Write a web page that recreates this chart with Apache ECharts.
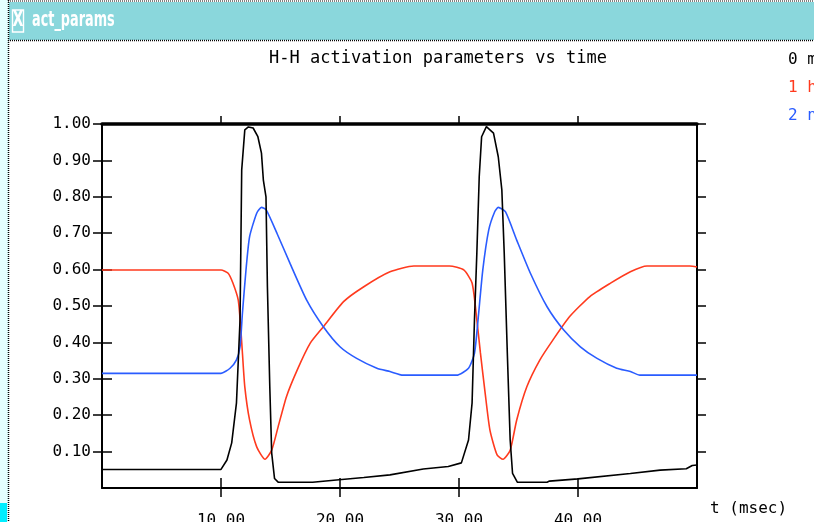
<!DOCTYPE html>
<html>
<head>
<meta charset="utf-8">
<script src="https://cdn.jsdelivr.net/npm/echarts@6/dist/echarts.min.js"></script>
<style>
html,body{margin:0;padding:0;background:#fff;}
#c{width:814px;height:522px;}
</style>
</head>
<body>
<div id="c"></div>
<script>
// ---- data ----
const seriesNames = ['0 m', '1 h', '2 n'];
const xTicks = [10, 20, 30, 40];
const yTicks = [0.1, 0.2, 0.3, 0.4, 0.5, 0.6, 0.7, 0.8, 0.9, 1.0];

const mTime = [0, 10.0, 10.5, 10.9, 11.3, 11.6, 11.74, 12.0, 12.3, 12.7, 13.1, 13.4, 13.56, 13.78, 13.9, 14.1, 14.26, 14.5, 14.8, 17.7, 19.7, 22.0, 24.2, 27.0, 29.1, 30.2, 30.8, 31.1, 31.3, 31.5, 31.7, 31.9, 32.3, 32.9, 33.3, 33.6, 33.8, 34.06, 34.3, 34.5, 34.9, 37.4, 37.6, 40.0, 44.4, 46.9, 49.1, 49.6, 50];
const mVal  = [0.051, 0.051, 0.077, 0.124, 0.234, 0.462, 0.874, 0.984, 0.992, 0.989, 0.965, 0.920, 0.846, 0.800, 0.553, 0.278, 0.096, 0.026, 0.016, 0.016, 0.022, 0.029, 0.036, 0.052, 0.059, 0.069, 0.132, 0.234, 0.462, 0.646, 0.855, 0.965, 0.993, 0.975, 0.910, 0.819, 0.646, 0.371, 0.132, 0.040, 0.016, 0.016, 0.019, 0.025, 0.040, 0.049, 0.053, 0.062, 0.063];

const hTime = [0, 10.0, 10.6, 11.0, 11.45, 11.65, 11.8, 12.0, 12.4, 13.0, 13.7, 14.26, 14.8, 15.5, 16.4, 17.5, 18.6, 20.3, 22.0, 24.2, 26.2, 29.2, 30.4, 31.1, 31.5, 31.8, 32.2, 32.6, 33.2, 33.7, 34.3, 34.85, 35.7, 36.8, 37.9, 39.3, 41.0, 42.7, 44.4, 45.8, 49.4, 50];
const hVal  = [0.599, 0.599, 0.590, 0.563, 0.516, 0.443, 0.371, 0.278, 0.187, 0.113, 0.079, 0.104, 0.168, 0.251, 0.324, 0.398, 0.443, 0.512, 0.553, 0.594, 0.610, 0.610, 0.599, 0.563, 0.462, 0.371, 0.260, 0.159, 0.091, 0.079, 0.104, 0.187, 0.278, 0.352, 0.407, 0.471, 0.526, 0.562, 0.594, 0.610, 0.610, 0.607];

const nTime = [0, 10.0, 10.76, 11.3, 11.6, 11.8, 12.1, 12.4, 13.0, 13.4, 13.8, 14.7, 15.8, 17.2, 18.6, 20.0, 21.4, 23.1, 24.2, 25.3, 29.8, 30.8, 31.3, 31.6, 32.0, 32.5, 33.0, 33.3, 33.9, 34.85, 36.0, 37.4, 38.8, 40.2, 41.6, 43.25, 44.4, 45.2, 50];
const nVal  = [0.315, 0.315, 0.329, 0.352, 0.388, 0.480, 0.599, 0.690, 0.755, 0.771, 0.764, 0.700, 0.617, 0.516, 0.443, 0.388, 0.356, 0.329, 0.320, 0.310, 0.310, 0.329, 0.370, 0.462, 0.599, 0.709, 0.759, 0.771, 0.759, 0.681, 0.590, 0.498, 0.434, 0.388, 0.356, 0.329, 0.320, 0.310, 0.310];

// ---- chart ----
const zip = (t, v) => t.map((x, i) => [x, v[i]]);
const colors = ['#000000', '#ff3a1e', '#2a5cff'];
const mono = "'DejaVu Sans Mono', 'Liberation Mono', monospace";
const cond = "'DejaVu Sans Condensed', 'DejaVu Sans', sans-serif";

function xAx(position, inside, len, extra) {
  return Object.assign({
    type: 'value', min: 0, max: 50, interval: 10, position: position,
    axisLine: { show: false },
    axisTick: { show: true, inside: inside, length: len, customValues: xTicks, lineStyle: { color: '#000', width: 1.5 } },
    axisLabel: { show: false },
    splitLine: { show: false }
  }, extra || {});
}
function yAx(position, inside, len, extra) {
  return Object.assign({
    type: 'value', min: 0, max: 1, interval: 0.1, position: position,
    axisLine: { show: false },
    axisTick: { show: true, inside: inside, length: len, customValues: yTicks, lineStyle: { color: '#000', width: 1.5 } },
    axisLabel: { show: false },
    splitLine: { show: false }
  }, extra || {});
}

const chart = echarts.init(document.getElementById('c'), null, { renderer: 'canvas' });
chart.setOption({
  animation: false,
  backgroundColor: '#ffffff',
  grid: { left: 102, top: 124, width: 595, height: 364, containLabel: false, outerBoundsMode: 'none' },
  xAxis: [
    xAx('bottom', false, 9, {
      axisLine: { show: true, onZero: false, lineStyle: { color: '#000', width: 2 } },
      axisLabel: { show: true, customValues: xTicks, margin: 25, color: '#000', fontFamily: mono, fontSize: 16,
                   formatter: v => v.toFixed(2) }
    }),
    xAx('bottom', true, 10),
    xAx('top', false, 8, { axisLine: { show: true, onZero: false, lineStyle: { color: '#000', width: 3.5 } } }),
    xAx('top', true, 9)
  ],
  yAxis: [
    yAx('left', false, 9, {
      axisLine: { show: true, onZero: false, lineStyle: { color: '#000', width: 2 } },
      axisLabel: { show: true, customValues: yTicks, margin: 11, color: '#000', fontFamily: mono, fontSize: 16,
                   formatter: v => v.toFixed(2) }
    }),
    yAx('left', true, 10),
    yAx('right', false, 9, { axisLine: { show: true, onZero: false, lineStyle: { color: '#000', width: 2 } } }),
    yAx('right', true, 9)
  ],
  series: [
    { name: seriesNames[0], type: 'line', data: zip(mTime, mVal), showSymbol: false, lineStyle: { color: colors[0], width: 1.6 }, z: 3 },
    { name: seriesNames[1], type: 'line', data: zip(hTime, hVal), showSymbol: false, smooth: 0.2, lineStyle: { color: colors[1], width: 1.6 }, z: 2 },
    { name: seriesNames[2], type: 'line', data: zip(nTime, nVal), showSymbol: false, smooth: 0.2, lineStyle: { color: colors[2], width: 1.6 }, z: 2 }
  ],
  graphic: [
    // window frame
    { type: 'rect', shape: { x: 0, y: 0, width: 9, height: 522 }, style: { fill: '#e4ffff' }, silent: true },
    { type: 'rect', shape: { x: 0, y: 503, width: 7, height: 19 }, style: { fill: '#00eeff' }, silent: true },
    { type: 'rect', shape: { x: 9, y: 2, width: 805, height: 38 }, style: { fill: '#8ad7dc' }, silent: true },
    { type: 'line', shape: { x1: 8, y1: 1, x2: 814, y2: 1 }, style: { stroke: '#000', lineWidth: 1, lineDash: [1, 1] }, silent: true },
    { type: 'line', shape: { x1: 8, y1: 40.5, x2: 814, y2: 40.5 }, style: { stroke: '#000', lineWidth: 1.5, lineDash: [1, 1] }, silent: true },
    { type: 'line', shape: { x1: 8.5, y1: 0, x2: 8.5, y2: 522 }, style: { stroke: '#000', lineWidth: 1.5, lineDash: [1, 1] }, silent: true },
    // title bar icon + name
    { type: 'rect', shape: { x: 12.5, y: 10, width: 11, height: 22 }, style: { fill: 'none', stroke: '#fff', lineWidth: 1.4 }, silent: true },
    { type: 'text', x: 18, y: 21, scaleX: 0.75, style: { text: 'X', fill: '#fff', font: 'bold 21px ' + cond, textAlign: 'center', textVerticalAlign: 'middle' }, silent: true },
    { type: 'text', x: 32, y: 21, scaleX: 0.68, style: { text: 'act_params', fill: '#fff', font: 'bold 21px ' + cond, textAlign: 'left', textVerticalAlign: 'middle' }, silent: true },
    // chart title
    { type: 'text', x: 438, y: 59, style: { text: 'H-H activation parameters vs time', fill: '#000', font: '17px ' + mono, textAlign: 'center', textVerticalAlign: 'middle' }, silent: true },
    // legend (cut off at the window edge)
    { type: 'text', x: 788, y: 60, style: { text: seriesNames[0], fill: colors[0], font: '16px ' + mono, textAlign: 'left', textVerticalAlign: 'middle' }, silent: true },
    { type: 'text', x: 788, y: 88, style: { text: seriesNames[1], fill: colors[1], font: '16px ' + mono, textAlign: 'left', textVerticalAlign: 'middle' }, silent: true },
    { type: 'text', x: 788, y: 116, style: { text: seriesNames[2], fill: colors[2], font: '16px ' + mono, textAlign: 'left', textVerticalAlign: 'middle' }, silent: true },
    // x axis name
    { type: 'text', x: 710, y: 509, style: { text: 't (msec)', fill: '#000', font: '16px ' + mono, textAlign: 'left', textVerticalAlign: 'middle' }, silent: true }
  ]
});
</script>
</body>
</html>
